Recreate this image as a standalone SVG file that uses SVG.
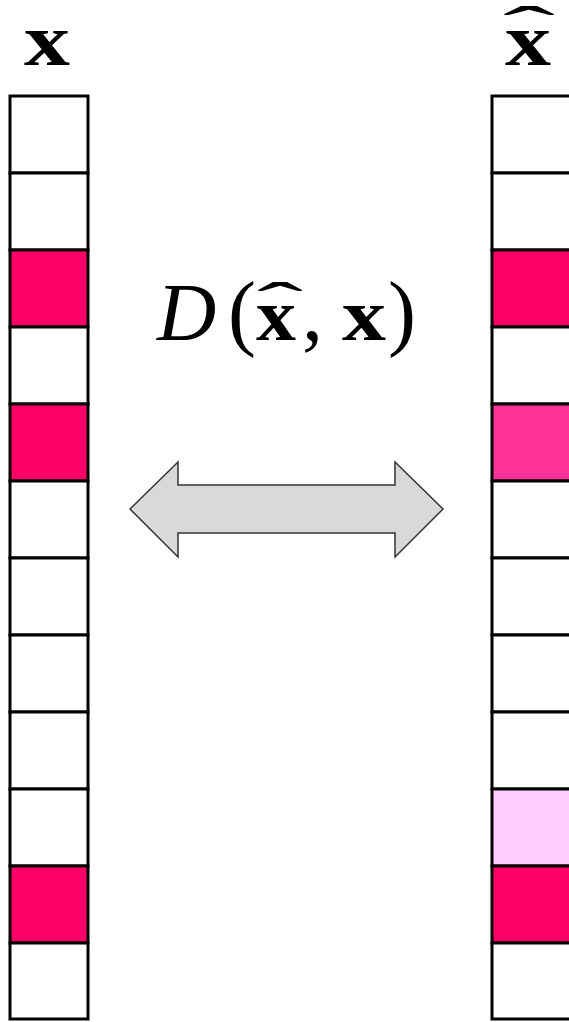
<svg xmlns="http://www.w3.org/2000/svg" width="569" height="1022" viewBox="0 0 569 1022">
<style>
.cell{stroke:#000;stroke-width:3;fill:#fff}
.r{fill:#FF0066}
.m{fill:#FF3399}
.l{fill:#FFCCFF}
.bx{font-family:"Liberation Serif",serif;font-weight:bold;font-size:74px;fill:#000}
.it{font-family:"Liberation Serif",serif;font-style:italic;font-size:82px;fill:#000}
.rm{font-family:"Liberation Serif",serif;font-size:84px;fill:#000}
.hat{font-family:"Liberation Serif",serif;font-size:60px;fill:#000}
</style>
<rect width="569" height="1022" fill="#fff"/>
<g id="label-x"><text class="bx" x="47" y="65" text-anchor="middle" textLength="46" lengthAdjust="spacingAndGlyphs">x</text></g>
<g id="label-xhat">
<text class="bx" x="528" y="65" text-anchor="middle" textLength="46" lengthAdjust="spacingAndGlyphs">x</text>
<text class="hat" x="0" y="0" text-anchor="middle" transform="translate(529,47) scale(2.6,1)">ˆ</text>
</g>
<g id="col-x">
<rect id="x0" class="cell" x="10" y="96" width="78" height="77"/>
<rect id="x1" class="cell" x="10" y="173" width="78" height="77"/>
<rect id="x2" class="cell r" x="10" y="250" width="78" height="77"/>
<rect id="x3" class="cell" x="10" y="327" width="78" height="77"/>
<rect id="x4" class="cell r" x="10" y="404" width="78" height="77"/>
<rect id="x5" class="cell" x="10" y="481" width="78" height="77"/>
<rect id="x6" class="cell" x="10" y="558" width="78" height="77"/>
<rect id="x7" class="cell" x="10" y="635" width="78" height="77"/>
<rect id="x8" class="cell" x="10" y="712" width="78" height="77"/>
<rect id="x9" class="cell" x="10" y="789" width="78" height="77"/>
<rect id="x10" class="cell r" x="10" y="866" width="78" height="77"/>
<rect id="x11" class="cell" x="10" y="943" width="78" height="76"/>
</g>
<g id="col-xhat">
<rect id="h0" class="cell" x="492" y="96" width="80" height="77"/>
<rect id="h1" class="cell" x="492" y="173" width="80" height="77"/>
<rect id="h2" class="cell r" x="492" y="250" width="80" height="77"/>
<rect id="h3" class="cell" x="492" y="327" width="80" height="77"/>
<rect id="h4" class="cell m" x="492" y="404" width="80" height="77"/>
<rect id="h5" class="cell" x="492" y="481" width="80" height="77"/>
<rect id="h6" class="cell" x="492" y="558" width="80" height="77"/>
<rect id="h7" class="cell" x="492" y="635" width="80" height="77"/>
<rect id="h8" class="cell" x="492" y="712" width="80" height="77"/>
<rect id="h9" class="cell l" x="492" y="789" width="80" height="77"/>
<rect id="h10" class="cell r" x="492" y="866" width="80" height="77"/>
<rect id="h11" class="cell" x="492" y="943" width="80" height="76"/>
</g>
<g id="formula">
<text class="it" x="157" y="340">D</text>
<text class="rm" x="228" y="340">(</text>
<text class="bx" x="276" y="340" text-anchor="middle" textLength="40" lengthAdjust="spacingAndGlyphs">x</text>
<text class="hat" x="0" y="0" text-anchor="middle" transform="translate(280,323) scale(2.3,1)">ˆ</text>
<text class="rm" x="302" y="340">,</text>
<text class="bx" x="364" y="340" text-anchor="middle" textLength="44" lengthAdjust="spacingAndGlyphs">x</text>
<text class="rm" x="388" y="340">)</text>
</g>
<g id="connectors">
<polygon points="130,509 178,462 178,485 395,485 395,462 443,509 395,557 395,533 178,533 178,557" fill="#D9D9D9" stroke="#333" stroke-width="1.5" stroke-linejoin="miter"/>
</g>
</svg>
